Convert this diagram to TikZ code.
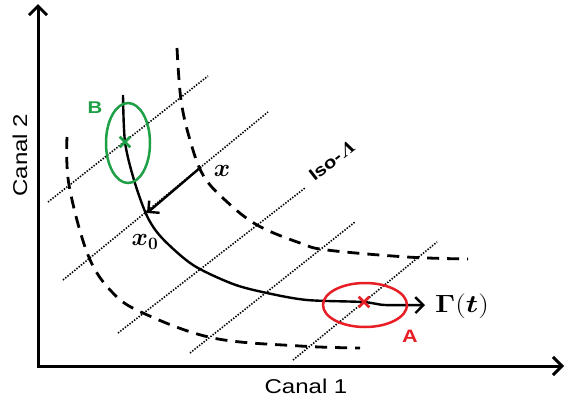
\documentclass[tikz,border=0pt]{standalone}
\usepackage{fontspec}
\usepackage{amsmath}
\usepackage{bm}
\setmainfont{Liberation Sans}
\usetikzlibrary{arrows.meta,shapes.geometric,shapes.misc}
\definecolor{myred}{RGB}{232,30,38}
\definecolor{mygreen}{RGB}{30,160,70}
\newcommand{\wide}[1]{\scalebox{1.2}[1]{#1}}
\begin{document}
\begin{tikzpicture}[x=1pt,y=-1pt,
  axisline/.style={line width=3pt,{Straight Barb[length=9pt,width=18pt]}-{Straight Barb[length=9pt,width=18pt]}},
  isoline/.style={line width=1.6pt,dash pattern=on 1.4pt off 1.5pt},
  isocurve/.style={line width=2.8pt,dash pattern=on 12pt off 8pt},
  traj/.style={line width=2.4pt},
  barb/.style={-{Straight Barb[length=8pt,width=16pt]}},
  lbl/.style={inner sep=0pt,font=\fontsize{20}{22}\selectfont},
  mathlbl/.style={inner sep=0pt,font=\fontsize{26}{28}\selectfont},
  crossmk/.style={cross out,draw,line width=2.6pt,minimum size=8pt,inner sep=0pt},
  ell/.style={ellipse,draw,line width=2.5pt,inner sep=0pt}
]
\useasboundingbox (0,0) rectangle (567,407);
% axes
\coordinate (O) at (38,366);
\coordinate (Ytip) at (38,4);
\coordinate (Xtip) at (564,366);
\draw[axisline] (Ytip) -- (O) -- (Xtip);
\node[lbl,rotate=90] (c2) at (20,155) {\wide{Canal 2}};
\node[lbl] (c1) at (306,386) {\wide{Canal 1}};
% dotted iso-Lambda lines
\coordinate (d1a) at (48,202);  \coordinate (d1b) at (208,76);
\coordinate (d2a) at (63,280);  \coordinate (d2b) at (268,112);
\coordinate (d3a) at (118,333); \coordinate (d3b) at (305,188);
\coordinate (d4a) at (190,353); \coordinate (d4b) at (355,222);
\coordinate (d5a) at (293,360); \coordinate (d5b) at (437,242);
\draw[isoline] (d1a) -- (d1b);
\draw[isoline] (d2a) -- (d2b);
\draw[isoline] (d3a) -- (d3b);
\draw[isoline] (d4a) -- (d4b);
\draw[isoline] (d5a) -- (d5b);
\node[lbl,rotate=38,font=\fontsize{17}{19}\selectfont\bfseries] (iso) at (332,161) {\wide{Iso-$\bm{\varLambda}$}};
% dashed curves
\draw[isocurve] plot[smooth,tension=0.6] coordinates {(67,137) (69,185) (88,255) (112,292) (143,313) (213,338) (300,346) (360,348)};
\draw[isocurve] plot[smooth,tension=0.6] coordinates {(177,48) (181,100) (190,140) (203,175) (225,200) (257,225) (300,243) (327,250) (407,257) (468,259)};
% trajectory
\draw[traj,barb] plot[smooth,tension=0.5] coordinates {(123,95) (125,142) (134,180) (147,216) (162,238) (193,265) (233,284) (267,293) (307,300) (363,302) (385,305) (425,305)};
% projection arrow
\coordinate (xs) at (201,167);
\coordinate (xe) at (147,213);
\draw[traj,barb] (xs) -- (xe);
\node[mathlbl] (xl) at (222,171) {$\bm{x}$};
\node[mathlbl] (x0l) at (145,242) {$\bm{x_0}$};
% A
\node[ell,draw=myred,minimum width=84pt,minimum height=44pt] (ellA) at (365,305) {};
\node[crossmk,draw=myred] (ca) at (364,302) {};
\node[lbl,text=myred,font=\fontsize{18}{20}\selectfont\bfseries] (la) at (410,336) {\wide{A}};
% B
\node[ell,draw=mygreen,minimum width=44pt,minimum height=80pt] (ellB) at (128,143) {};
\node[crossmk,draw=mygreen] (cb) at (125,142) {};
\node[lbl,text=mygreen,font=\fontsize{17}{19}\selectfont\bfseries] (lb) at (95,108) {\wide{B}};
% Gamma label
\node[mathlbl,anchor=west] (gl) at (435,306) {\wide{$\bm{\Gamma}(\bm{t})$}};
\end{tikzpicture}
\end{document}
